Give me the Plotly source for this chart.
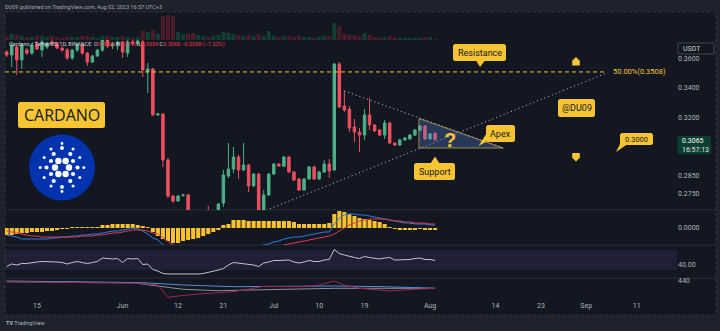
import plotly.graph_objects as go
import pandas as pd

W, H = 720, 331


def X(p):
    return p / W


def Y(p):
    return 1 - p / H


# ---------------- data ----------------
dates = pd.date_range("2023-05-09", "2023-08-02", freq="D")

open_ = [0.3651, 0.3629, 0.3687, 0.3593, 0.3665, 0.3643, 0.3710, 0.3665, 0.3687, 0.3725,
         0.3717, 0.3680, 0.3665, 0.3607, 0.3665, 0.3702, 0.3643, 0.3578, 0.3622, 0.3665,
         0.3739, 0.3695, 0.3695, 0.3725, 0.3643, 0.3725, 0.3710, 0.3725, 0.3508, 0.3529,
         0.3219, 0.3225, 0.2942, 0.2737, 0.2710, 0.2741, 0.2743, 0.2635, 0.2609, 0.2640,
         0.2646, 0.2640, 0.2651, 0.2699, 0.2849, 0.2889, 0.2959, 0.2883, 0.2912, 0.2793,
         0.2860, 0.2640, 0.2743, 0.2860, 0.2918, 0.2906, 0.2959, 0.2872, 0.2832, 0.2770,
         0.2832, 0.2901, 0.2832, 0.2872, 0.2918, 0.2883, 0.3564, 0.3277, 0.3257, 0.3142,
         0.3111, 0.3092, 0.3219, 0.3155, 0.3123, 0.3092, 0.3168, 0.3043, 0.3031, 0.3062,
         0.3068, 0.3092, 0.3123, 0.3149, 0.3068, 0.3103]
high = [0.3665, 0.3725, 0.3702, 0.3717, 0.3680, 0.3717, 0.3732, 0.3754, 0.3725, 0.3739,
        0.3725, 0.3695, 0.3680, 0.3673, 0.3717, 0.3710, 0.3651, 0.3629, 0.3673, 0.3769,
        0.3769, 0.3725, 0.3732, 0.3732, 0.3739, 0.3739, 0.3754, 0.3739, 0.3571, 0.3536,
        0.3232, 0.3232, 0.2953, 0.2743, 0.2743, 0.2748, 0.2748, 0.2646, 0.2651, 0.2656,
        0.2683, 0.2656, 0.2699, 0.2883, 0.3043, 0.3019, 0.2971, 0.3043, 0.2918, 0.2866,
        0.2866, 0.2770, 0.2866, 0.2924, 0.2924, 0.2965, 0.2965, 0.2878, 0.2838, 0.2838,
        0.2906, 0.2906, 0.2878, 0.2942, 0.2947, 0.3571, 0.3578, 0.3377, 0.3277, 0.3193,
        0.3136, 0.3257, 0.3330, 0.3161, 0.3130, 0.3187, 0.3174, 0.3049, 0.3068, 0.3080,
        0.3099, 0.3130, 0.3155, 0.3155, 0.3105, 0.3112]
low = [0.3614, 0.3543, 0.3487, 0.3529, 0.3629, 0.3629, 0.3665, 0.3614, 0.3673, 0.3695,
       0.3673, 0.3651, 0.3593, 0.3593, 0.3651, 0.3629, 0.3550, 0.3571, 0.3614, 0.3651,
       0.3680, 0.3673, 0.3665, 0.3607, 0.3614, 0.3695, 0.3695, 0.3473, 0.3363, 0.3212,
       0.3212, 0.2901, 0.2726, 0.2699, 0.2705, 0.2732, 0.2630, 0.2588, 0.2599, 0.2635,
       0.2630, 0.2630, 0.2640, 0.2678, 0.2838, 0.2866, 0.2832, 0.2878, 0.2759, 0.2787,
       0.2630, 0.2630, 0.2737, 0.2855, 0.2901, 0.2901, 0.2866, 0.2821, 0.2765, 0.2765,
       0.2826, 0.2826, 0.2826, 0.2866, 0.2838, 0.2878, 0.3264, 0.3238, 0.3111, 0.3049,
       0.2989, 0.3062, 0.3123, 0.3111, 0.3086, 0.3068, 0.3037, 0.3025, 0.3025, 0.3056,
       0.3062, 0.3086, 0.3117, 0.3062, 0.3062, 0.3054]
close = [0.3629, 0.3702, 0.3593, 0.3702, 0.3643, 0.3702, 0.3673, 0.3725, 0.3717, 0.3710,
         0.3680, 0.3665, 0.3607, 0.3665, 0.3702, 0.3643, 0.3578, 0.3622, 0.3665, 0.3739,
         0.3695, 0.3710, 0.3725, 0.3651, 0.3725, 0.3710, 0.3732, 0.3522, 0.3529, 0.3219,
         0.3225, 0.2942, 0.2737, 0.2710, 0.2737, 0.2743, 0.2635, 0.2609, 0.2640, 0.2646,
         0.2640, 0.2651, 0.2694, 0.2855, 0.2889, 0.2959, 0.2883, 0.2912, 0.2793, 0.2860,
         0.2640, 0.2743, 0.2860, 0.2918, 0.2906, 0.2959, 0.2872, 0.2826, 0.2770, 0.2832,
         0.2901, 0.2832, 0.2872, 0.2918, 0.2878, 0.3564, 0.3271, 0.3251, 0.3136, 0.3111,
         0.3092, 0.3219, 0.3155, 0.3117, 0.3092, 0.3168, 0.3043, 0.3031, 0.3062, 0.3074,
         0.3092, 0.3123, 0.3149, 0.3068, 0.3099, 0.3065]
volume_m = [60, 120, 100, 80, 60, 60, 80, 80, 60, 80,
            60, 40, 60, 60, 60, 80, 80, 60, 40, 80,
            80, 60, 60, 80, 60, 40, 60, 180, 160, 200,
            120, 480, 500, 480, 160, 120, 120, 140, 100, 80,
            60, 80, 100, 160, 140, 120, 100, 80, 100, 80,
            120, 80, 180, 80, 60, 80, 80, 60, 80, 60,
            60, 40, 60, 80, 80, 340, 280, 120, 100, 100,
            80, 140, 100, 60, 40, 60, 80, 40, 40, 40,
            40, 40, 40, 60, 60, 20]
macd_hist = [-0.0035, -0.0035, -0.003, -0.0025, -0.0025, -0.002, -0.002, -0.002, -0.0015, -0.0015,
             -0.001, -0.0005, -0.0005, 0.0001, 0.0005, 0.0005, 0.0005, 0.00025, 0.0005, 0.0015,
             0.0015, 0.002, 0.002, 0.002, 0.002, 0.002, 0.0015, 0.001, 0.00025, -0.002,
             -0.004, -0.0055, -0.0065, -0.0075, -0.0075, -0.0065, -0.006, -0.0055, -0.005, -0.004,
             -0.003, -0.002, -0.001, 0.0015, 0.002, 0.004, 0.004, 0.004, 0.0035, 0.0035,
             0.0035, 0.0035, 0.0035, 0.0035, 0.0035, 0.0035, 0.0035, 0.003, 0.002, 0.002,
             0.002, 0.002, 0.002, 0.002, 0.0025, 0.007, 0.0085, 0.008, 0.007, 0.006,
             0.005, 0.0045, 0.004, 0.0035, 0.003, 0.002, 0.0005, -0.0005, -0.00075, -0.00075,
             -0.00075, -0.00075, -0.0005, -0.00075, -0.00075, -0.00075]
macd_line = [-0.0035, -0.004, -0.0045, -0.0055, -0.0055, -0.0055, -0.0055, -0.0055, -0.0055, -0.005,
             -0.005, -0.0045, -0.0045, -0.004, -0.004, -0.0035, -0.0035, -0.003, -0.003, -0.0025,
             -0.002, -0.0015, -0.0015, -0.001, -0.0005, 0.0, -0.0005, -0.0015, -0.003, -0.005,
             -0.006, -0.0085, -0.012, -0.0155, -0.018, -0.02, -0.0215, -0.0225, -0.022, -0.0215,
             -0.0205, -0.0195, -0.018, -0.016, -0.0145, -0.013, -0.012, -0.011, -0.01, -0.0095,
             -0.009, -0.0085, -0.008, -0.007, -0.0065, -0.0055, -0.005, -0.0045, -0.0045, -0.004,
             -0.0035, -0.003, -0.0025, -0.002, -0.002, 0.002, 0.005, 0.0065, 0.007, 0.007,
             0.0065, 0.0065, 0.006, 0.0055, 0.005, 0.0045, 0.004, 0.0035, 0.003, 0.0025,
             0.0025, 0.002, 0.002, 0.002, 0.0015, 0.0015]
signal_line = [-0.0015, -0.002, -0.0025, -0.003, -0.0035, -0.004, -0.004, -0.0045, -0.0045, -0.0045,
               -0.0045, -0.0045, -0.0045, -0.0045, -0.0045, -0.004, -0.004, -0.004, -0.0035, -0.0035,
               -0.003, -0.0025, -0.0025, -0.002, -0.0015, -0.001, -0.001, -0.001, -0.0015, -0.0025,
               -0.003, -0.005, -0.007, -0.0095, -0.012, -0.0135, -0.015, -0.0165, -0.0175, -0.018,
               -0.0185, -0.0185, -0.018, -0.0175, -0.017, -0.016, -0.015, -0.014, -0.013, -0.0125,
               -0.012, -0.0115, -0.011, -0.01, -0.0095, -0.0085, -0.008, -0.0075, -0.007, -0.0065,
               -0.006, -0.0055, -0.005, -0.0045, -0.004, -0.003, -0.0015, 0.0, 0.0015, 0.0025,
               0.0035, 0.004, 0.0045, 0.0045, 0.0045, 0.0045, 0.004, 0.0035, 0.0035, 0.003,
               0.003, 0.0025, 0.0025, 0.0025, 0.002, 0.002]
rsi = [37, 42, 40, 43, 43, 45, 46, 47, 47, 47,
       46, 45, 42, 45, 47, 45, 43, 45, 47, 54,
       53, 52, 53, 45, 53, 52, 53, 41, 42, 31,
       28, 23, 22, 22, 22, 22, 21, 21, 22, 23,
       25, 27, 30, 33, 40, 45, 44, 43, 41, 40,
       37, 44, 46, 49, 49, 50, 50, 46, 44, 46,
       49, 47, 47, 50, 51, 71, 63, 60, 57, 55,
       53, 57, 55, 53, 52, 54, 55, 50, 50, 51,
       51, 53, 54, 51, 51, 49]

ind_gray_dates = ["2023-05-09", "2023-06-03", "2023-06-09", "2023-06-13", "2023-06-20",
                  "2023-06-29", "2023-07-13", "2023-08-02"]
ind_gray = [433, 423, 383, 357, 343, 350, 367, 367]
ind_blue_dates = ["2023-05-09", "2023-06-05", "2023-06-13", "2023-06-23", "2023-07-13",
                  "2023-07-23", "2023-08-02"]
ind_blue = [440, 423, 400, 383, 390, 383, 367]
ind_red_dates = ["2023-05-09", "2023-06-04", "2023-06-08", "2023-06-10", "2023-06-12",
                 "2023-06-16", "2023-06-23", "2023-06-29", "2023-07-06", "2023-07-10",
                 "2023-07-13", "2023-07-15", "2023-07-18", "2023-07-24", "2023-07-29",
                 "2023-08-02"]
ind_red = [433, 417, 400, 277, 290, 310, 333, 387, 383, 400, 440, 400, 367, 340, 357, 367]

price_ticks = [0.36, 0.34, 0.32, 0.285, 0.275]
price_tick_text = ["0.3600", "0.3400", "0.3200", "0.2850", "0.2750"]
x_tick_dates = ["2023-05-15", "2023-06-01", "2023-06-12", "2023-06-21", "2023-07-01",
                "2023-07-10", "2023-07-19", "2023-08-01", "2023-08-14", "2023-08-23",
                "2023-09-01", "2023-09-11"]
x_tick_text = ["15", "Jun", "12", "21", "Jul", "10", "19", "Aug", "14", "23", "Sep", "11"]

fib_level = 0.3508
fib_dates = ["2023-05-08 16:00", "2023-09-05"]
resistance_dates = ["2023-07-15", "2023-08-15 12:00"]
resistance_prices = [0.3377, 0.3013]
support_dates = ["2023-06-29 12:00", "2023-09-05"]
support_prices = [0.2660, 0.3500]
triangle_dates = ["2023-07-29 19:00", "2023-07-29 19:00", "2023-08-15 12:00", "2023-07-29 19:00"]
triangle_prices = [0.3196, 0.3013, 0.3013, 0.3196]

for arr in (open_, high, low, close, volume_m, macd_hist, macd_line, signal_line, rsi):
    assert len(arr) == len(dates), len(arr)

UP = "#4caf86"
DN = "#ef4f5e"
YEL = "#f7c533"
DAY_MS = 86400000

fig = go.Figure()

vol_colors = ["#123f35" if c >= o else "#4a1c28" for o, c in zip(open_, close)]
fig.add_trace(go.Bar(x=dates, y=volume_m, marker=dict(color=vol_colors, line=dict(width=0)),
                     width=0.8 * DAY_MS, xaxis="x", yaxis="y5"))

fig.add_trace(go.Candlestick(x=dates, open=open_, high=high, low=low, close=close,
                             increasing=dict(line=dict(color=UP, width=1), fillcolor=UP),
                             decreasing=dict(line=dict(color=DN, width=1), fillcolor=DN),
                             whiskerwidth=0, xaxis="x", yaxis="y"))

fig.add_trace(go.Scatter(x=fib_dates, y=[fib_level, fib_level], mode="lines",
                         line=dict(color=YEL, width=1, dash="4px,3px"), xaxis="x", yaxis="y"))
fig.add_trace(go.Scatter(x=support_dates, y=support_prices, mode="lines",
                         line=dict(color="#c9cbd1", width=1, dash="1px,3px"), xaxis="x", yaxis="y"))
fig.add_trace(go.Scatter(x=resistance_dates, y=resistance_prices, mode="lines",
                         line=dict(color="#c9cbd1", width=1, dash="1px,3px"), xaxis="x", yaxis="y"))
fig.add_trace(go.Scatter(x=triangle_dates, y=triangle_prices, mode="lines", fill="toself",
                         fillcolor="rgba(86,133,221,0.30)",
                         line=dict(color="rgba(200,170,80,0.75)", width=1), xaxis="x", yaxis="y"))

# MACD
fig.add_trace(go.Bar(x=dates, y=macd_hist, marker=dict(color="#f9c22e", line=dict(width=0)),
                     width=0.8 * DAY_MS, xaxis="x2", yaxis="y2"))
fig.add_trace(go.Scatter(x=dates, y=macd_line, mode="lines", line=dict(color="#2a7fe0", width=1),
                         xaxis="x2", yaxis="y2"))
fig.add_trace(go.Scatter(x=dates, y=signal_line, mode="lines", line=dict(color="#e23a52", width=1),
                         xaxis="x2", yaxis="y2"))
# RSI
fig.add_trace(go.Scatter(x=dates, y=rsi, mode="lines", line=dict(color="#c3c5cc", width=1),
                         xaxis="x3", yaxis="y3"))
# third indicator
fig.add_trace(go.Scatter(x=ind_gray_dates, y=ind_gray, mode="lines", line=dict(color="#8d909a", width=1),
                         xaxis="x4", yaxis="y4"))
fig.add_trace(go.Scatter(x=ind_blue_dates, y=ind_blue, mode="lines", line=dict(color="#4f8fdc", width=1),
                         xaxis="x4", yaxis="y4"))
fig.add_trace(go.Scatter(x=ind_red_dates, y=ind_red, mode="lines", line=dict(color="#a3224f", width=1),
                         xaxis="x4", yaxis="y4"))

# ---------------- decorations ----------------
shapes = []
annotations = []

shapes.append(dict(type="rect", xref="paper", yref="paper", x0=X(5), x1=X(716), y0=Y(315), y1=Y(12),
                   fillcolor="#131722", line=dict(color="#30343f", width=1, dash="dot"), layer="below"))
for yy in (210, 245, 278):
    shapes.append(dict(type="line", xref="paper", yref="paper", x0=X(5), x1=X(716), y0=Y(yy), y1=Y(yy),
                       line=dict(color="#2a2e39", width=1), layer="below"))
shapes.append(dict(type="rect", xref="x3 domain", yref="y3", x0=0, x1=1, y0=30, y1=70,
                   fillcolor="rgba(126,87,194,0.13)", line=dict(width=0), layer="below"))


def circ(cx, cy, r, color):
    return dict(type="circle", xref="paper", yref="paper", x0=X(cx - r), x1=X(cx + r),
                y0=Y(cy + r), y1=Y(cy - r), fillcolor=color, line=dict(width=0), layer="above")


def poly(points, color):
    path = "M" + " L".join(f"{X(a):.5f},{Y(b):.5f}" for a, b in points) + " Z"
    return dict(type="path", xref="paper", yref="paper", path=path, fillcolor=color,
                line=dict(width=0), layer="above")


def rrect(x0, y0, x1, y1, color, r=2.5):
    rx, ry = r / W, r / H
    a, b, c, d = X(x0), Y(y0), X(x1), Y(y1)
    path = (f"M{a+rx},{b} L{c-rx},{b} Q{c},{b} {c},{b-ry} L{c},{d+ry} Q{c},{d} {c-rx},{d} "
            f"L{a+rx},{d} Q{a},{d} {a},{d+ry} L{a},{b-ry} Q{a},{b} {a+rx},{b} Z")
    return dict(type="path", xref="paper", yref="paper", path=path, fillcolor=color,
                line=dict(width=0), layer="above")


# Cardano logo
LX, LY = 62, 167.5
shapes.append(circ(LX, LY, 33, "#0033ad"))
dots = [(7, 0, 3.2), (-7, 0, 3.2), (3.6, -6.5, 3.2), (-3.6, -6.5, 3.2), (3.6, 6.5, 3.2), (-3.6, 6.5, 3.2),
        (11, -6.5, 2.1), (-11, -6.5, 2.1), (11, 6.5, 2.1), (-11, 6.5, 2.1), (15.5, 0, 2.1), (-15.5, 0, 2.1),
        (8.3, -13.5, 2.1), (-8.3, -13.5, 2.1), (8.3, 13.5, 2.1), (-8.3, 13.5, 2.1),
        (0, -19.5, 1.9), (0, 19.5, 1.9),
        (17.8, -10, 1.5), (-17.8, -10, 1.5), (17.8, 10, 1.5), (-17.8, 10, 1.5), (21.8, 0, 1.5), (-21.8, 0, 1.5),
        (11, -18.6, 1.5), (-11, -18.6, 1.5), (11, 18.6, 1.5), (-11, 18.6, 1.5), (0, -24, 1.4), (0, 24, 1.4)]
for dx, dy, r in dots:
    shapes.append(circ(LX + dx, LY + dy, r, "#ffffff"))

# callout boxes + tails
boxes = [(18, 102, 105, 128), (453, 44, 506, 61), (558, 99, 595, 117), (486, 125, 515, 142),
         (414, 163, 455, 180), (620, 133, 653, 145)]
for bx in boxes:
    shapes.append(rrect(*bx, YEL))
shapes.append(poly([(476, 60.5), (485, 60.5), (480, 67)], YEL))
shapes.append(poly([(430.5, 163.5), (439.5, 163.5), (435, 156.5)], YEL))
shapes.append(poly([(486.5, 133.5), (486.5, 141.5), (478.5, 146)], YEL))
shapes.append(poly([(620.5, 143), (627, 144.5), (616, 152)], YEL))
# arrows
shapes.append(poly([(576, 57), (579.8, 60.8), (579.8, 65.5), (572.2, 65.5), (572.2, 60.8)], YEL))
shapes.append(poly([(572.2, 153), (579.8, 153), (579.8, 157.7), (576, 161.5), (572.2, 157.7)], YEL))

# price axis boxes
shapes.append(dict(type="rect", xref="paper", yref="paper", x0=X(678), x1=X(714), y0=Y(54), y1=Y(43),
                   line=dict(color="#434651", width=1), fillcolor="rgba(0,0,0,0)", layer="above"))
shapes.append(dict(type="rect", xref="paper", yref="paper", x0=X(677.5), x1=X(711), y0=Y(154), y1=Y(136),
                   line=dict(width=0), fillcolor="#0b3d31", layer="above"))


def txt(x, y, s, size=7, color="#b2b5be", anchor="left", family="Roboto"):
    annotations.append(dict(x=X(x), y=Y(y), xref="paper", yref="paper", text=s, showarrow=False,
                            xanchor=anchor, yanchor="middle",
                            font=dict(size=size, color=color, family=family)))


txt(3, 6.5, "DU09 published on TradingView.com, Aug 02, 2023 16:57 UTC+3", size=5.5, color="#a3a6af")
red = "#f23645"
info = ("Cardano / TetherUS, 1D, BINANCE  "
        f"O<span style='color:{red}'>0.3103</span> H<span style='color:{red}'>0.3112</span> "
        f"L<span style='color:{red}'>0.3054</span> C<span style='color:{red}'>0.3065</span> "
        f"<span style='color:{red}'>−0.0038 (−1.22%)</span>")
txt(7, 45, info, size=5.5, color="#d1d4dc")
txt(4, 323, "<b>TV</b> TradingView", size=5.5, color="#b2b5be")

txt(61.5, 115.5, "CARDANO", size=16, color="#131722", anchor="center", family="Open Sans")
txt(479.5, 52.8, "Resistance", size=9, color="#131722", anchor="center")
txt(576.5, 108.3, "@DU09", size=9, color="#131722", anchor="center")
txt(500.5, 133.8, "Apex", size=9, color="#131722", anchor="center")
txt(434.5, 171.8, "Support", size=9, color="#131722", anchor="center")
txt(636.5, 139.3, "0.3000", size=7.5, color="#131722", anchor="center")
txt(450, 140, "<b>?</b>", size=20, color=YEL, anchor="center", family="Liberation Sans")
txt(611, 72, "50.00%(0.3508)", size=7.5, color=YEL)

txt(681, 48.8, "USDT", size=7, color="#d1d4dc")
txt(680, 141, "0.3065", size=7, color="#ffffff")
txt(680, 149.5, "16:57:13", size=7, color="#e0e3eb")

axis_common = dict(showgrid=False, zeroline=False, showline=False, ticks="")
xr = ["2023-05-08 16:00", "2023-09-19 00:00"]
xd = [X(5), X(677)]

fig.update_layout(
    width=W, height=H, margin=dict(l=0, r=0, t=0, b=0),
    paper_bgcolor="#1e222d", plot_bgcolor="rgba(0,0,0,0)",
    showlegend=False, hovermode=False,
    font=dict(family="Roboto", color="#b2b5be", size=7),
    xaxis=dict(domain=xd, range=xr, type="date", anchor="y", showticklabels=False,
               rangeslider=dict(visible=False), **axis_common),
    xaxis2=dict(domain=xd, matches="x", type="date", anchor="y2", showticklabels=False, **axis_common),
    xaxis3=dict(domain=xd, matches="x", type="date", anchor="y3", showticklabels=False, **axis_common),
    xaxis4=dict(domain=xd, matches="x", type="date", anchor="y4", tickvals=x_tick_dates,
                ticktext=x_tick_text, tickfont=dict(size=7, color="#b2b5be"), **axis_common),
    yaxis=dict(domain=[Y(210), Y(12)], type="log", range=[-0.574854, -0.402874], side="right",
               anchor="x", tickvals=price_ticks, ticktext=price_tick_text,
               tickfont=dict(size=7, color="#b2b5be"), **axis_common),
    yaxis2=dict(domain=[Y(245), Y(210)], range=[-0.0085, 0.009], side="right", anchor="x2",
                tickvals=[0], ticktext=["0.0000"], tickfont=dict(size=7, color="#b2b5be"), **axis_common),
    yaxis3=dict(domain=[Y(278), Y(245)], range=[14, 80], side="right", anchor="x3",
                tickvals=[40], ticktext=["40.00"], tickfont=dict(size=7, color="#b2b5be"), **axis_common),
    yaxis4=dict(domain=[Y(300), Y(278)], range=[250, 470], side="right", anchor="x4",
                tickvals=[440], ticktext=["440"], tickfont=dict(size=7, color="#b2b5be"), **axis_common),
    yaxis5=dict(domain=[Y(40), Y(12)], range=[0, 560], anchor="x", showticklabels=False, **axis_common),
    shapes=shapes, annotations=annotations,
)

fig.write_html("out.html")
